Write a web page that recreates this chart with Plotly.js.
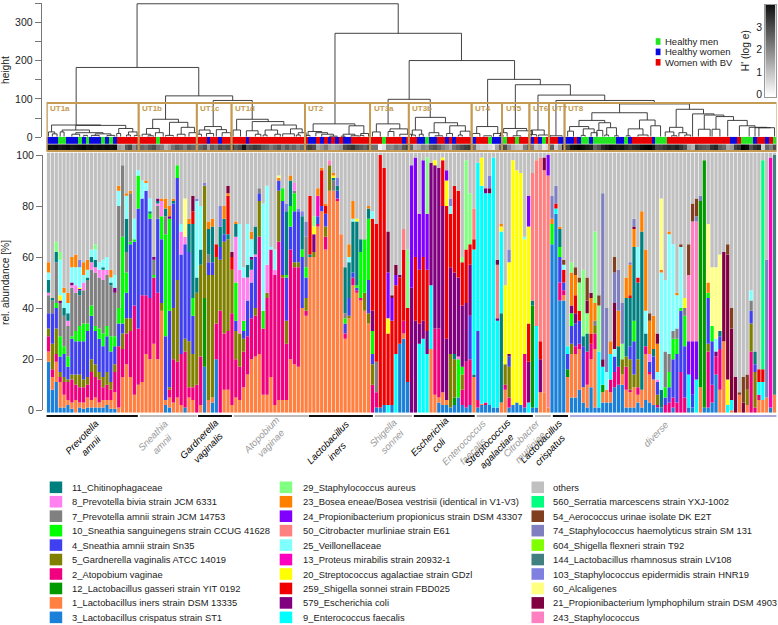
<!DOCTYPE html>
<html><head><meta charset="utf-8">
<script src="https://cdn.plot.ly/plotly-3.0.1.min.js"></script>
<style>html,body{margin:0;padding:0;background:#fff}#chart{width:778px;height:625px}</style>
</head><body><div id="chart"></div>
<script>
// stack order, bottom to top
const speciesNames = ["3_Lactobacillus crispatus strain ST1","1_Lactobacillus iners strain DSM 13335","12_Lactobacillus gasseri strain YIT 0192","2_Atopobium vaginae","5_Gardnerella vaginalis ATCC 14019","4_Sneathia amnii strain Sn35","10_Sneathia sanguinegens strain CCUG 41628","7_Prevotella amnii strain JCM 14753","8_Prevotella bivia strain JCM 6331","11_Chitinophagaceae",
"9_Enterococcus faecalis","579_Escherichia coli","259_Shigella sonnei strain FBD025","20_Streptococcus agalactiae strain GDzl","13_Proteus mirabilis strain 20932-1","25_Veillonellaceae","50_Citrobacter murliniae strain E61","24_Propionibacterium propionicus strain DSM 43307","23_Bosea eneae/Bosea vestrisii (identical in V1-V3)","29_Staphylococcus aureus",
"243_Staphylococcus","21_Propionibacterium lymphophilum strain DSM 4903","60_Alcaligenes","103_Staphylococcus epidermidis strain HNR19","144_Lactobacillus rhamnosus strain LV108","604_Shigella flexneri strain T92","74_Staphylococcus haemolyticus strain SM 131","54_Aerococcus urinae isolate DK E2T","560_Serratia marcescens strain YXJ-1002","others"];
const speciesColors = ["#1a80d8","#ff8040","#009900","#f0007f","#808000","#4040f0","#00ff00","#808080","#ff80ee","#007f7f",
"#00ffff","#800080","#f00000","#ffff00","#ff00bf","#80ffff","#ff8080","#8000ff","#ff8000","#80ff80",
"#ff80c0","#800040","#ffff80","#8080e0","#408080","#80ff00","#8080c0","#804020","#00ff80","#c0c0c0"];
const c=0,i=1,g=2,a=3,v=4,s=5,n=6,p=7,b=8,k=9,e=10,o=11,r=12,y=13,m=14,w=15,f=16,u=17,t=18,l=19,h=20,d=21,A=22,B=23,C=24,D=25,E=26,F=27,G=28;

// each sample: species, cumulative abundance [%] at that species' upper edge
const UT1a = [
[c,19,i,23,a,29,v,32,s,38,p,45,b,46,k,51,w,54,t,58],
[c,8,i,13,a,16,v,26,s,38,p,43,k,44],
[c,11,i,19,a,22,v,32,s,40,n,42,p,58,k,62,l,66],
[c,1,i,11,a,13,v,15,s,21,n,29,p,42,o,43,y,45,w,59,l,62],
[c,1,i,6,a,11,v,13,s,22,n,25,p,37,k,40,w,46,t,48],
[c,2,i,4,a,11,v,12,s,17,n,21,p,33,b,35,k,38,w,42,t,46],
[c,0.5,i,3,a,12,v,14,s,28,n,29,p,48,o,49,b,50,w,56,t,60],
[i,4,a,10,v,14,s,27,n,31,p,46,b,49,w,56,t,61],
[c,1,i,3,a,9,v,14,s,27,n,33,p,45,k,47,o,47.5,y,48,w,56,B,59],
[c,0.5,i,3,a,9,v,12,s,27,n,34,p,47,b,50,w,53,t,58],
[c,1,i,5,a,10,v,13,s,31,n,34,p,51,k,52,w,55,t,59],
[c,1,i,4,a,15,v,20,s,37,n,41,p,55,b,58,k,60,w,63],
[c,1,i,5,a,13,v,18,s,31,n,33,p,54,b,56,k,59,w,63,l,65],
[c,1,i,3,a,12,v,15,s,28,n,32,p,52,b,55,w,58],
[c,1,i,4,a,9,v,13,s,25,n,30,p,51,b,55,k,56,w,59],
[c,2,i,4,a,10,v,15,s,29,n,33,p,53,b,55,w,60],
[c,0.5,i,4,a,8,v,11,s,23,n,29,p,49,k,50,w,52,t,55],
[c,0.5,i,7,a,15,v,18,s,25,n,29,p,46,o,48,w,53],
[i,1,a,25,s,34,n,40,p,80,w,86,t,88],
[i,13,a,24,v,30,s,34,n,68,p,96],
[i,18,a,30,v,36,s,46,n,54,p,62,k,75,w,84,t,85],
[i,13,a,31,v,36,s,65,n,66,p,85,t,86],
[i,6,a,41,s,66,n,67,w,75],
[i,10,a,32,s,79,n,92,w,94]];
const UT1b = [
[i,11,a,45,s,83,w,90],
[i,22,a,45,s,86,w,89,t,90],
[i,20,a,44,s,75,n,77,w,82,k,83],
[i,26,a,52,p,58,o,59,n,60],
[i,20,a,46,p,51,o,52,s,81,b,82,k,83],
[i,39,v,42,s,67,n,76,b,82,t,83],
[c,2,i,4,s,29,n,69,p,76,t,80,k,83],
[c,1,i,5,a,8,v,9,s,39,n,75,o,76,t,80],
[i,3,a,20,v,40,s,81,k,82,t,83],
[i,5,a,19,v,51,s,91,n,96],
[i,2,a,22,s,61,b,70,w,73],
[c,1,a,23,v,28,s,65,b,68,A,83],
[i,5,a,9,v,27,s,62,k,73,t,75],
[i,4,a,9,v,22,s,37,n,44,k,73,d,79,r,84],
[a,10,v,46,k,52,w,82,B,83]];
const UT1c = [
[i,2,a,21,v,57,k,63,w,80],
[c,17,g,44,v,88,B,89],
[i,4,v,53,s,58,k,68,p,71,t,74],
[c,3,i,5,v,53,s,58,k,72,t,75],
[c,20,a,34,v,60,r,65],
[a,39,v,59,s,64,k,72,B,80],
[i,8,a,30,v,66,s,69,k,75,t,80],
[i,8,a,31,v,67,k,69,r,84,d,87,t,88],
[i,2,a,38,v,55,r,60,d,62]];
const UT1d = [
[i,5,a,20,v,31,s,35,n,50,b,68,k,73,t,74],
[i,4,a,17,v,30,b,55,w,73],
[i,9,a,23,v,28,s,31,n,35,b,52,w,56],
[i,14,a,29,s,43,k,48,b,57,w,73],
[i,20,a,36,s,50,o,51,k,55,b,60,w,67,t,70],
[i,21,a,37,v,40,s,60,k,71,b,72],
[i,22,a,68,v,82,s,85,p,87],
[i,6,a,32,n,39,w,81],
[i,6,a,44,v,46,b,57,w,88],
[i,13,a,63,w,64],
[i,2,a,53,b,55,w,63],
[i,4,a,66,v,86,s,90,A,91,t,92],
[i,4,a,52,v,53,s,82,n,87],
[i,4,a,26,v,35,s,52,n,53,k,78,B,81],
[i,20,a,63,s,72,n,80,k,90,t,92],
[i,18,a,56,v,58,s,78,n,85,b,88,p,89],
[i,17,a,56,v,58,s,78,B,79],
[i,40,s,60,n,63,k,76,B,78],
[i,37,a,39,v,44,s,52,n,56,p,68,E,74]];
const UT2 = [
[i,60,k,61,r,84],
[i,60,v,62,o,69,y,72,l,76],
[i,72,a,73,s,76,m,84,t,87],
[i,78,s,80,r,94,t,95],
[i,63,a,68,v,72,s,77,r,80,t,81],
[i,86,v,96,h,98],
[i,86,p,90,k,91,t,92,y,93],
[i,82,a,83,s,86,k,88,B,91],
[i,69],
[i,28,a,30,s,34,n,36,k,54,p,56],
[i,36,v,37,s,44,k,58,w,60,t,65],
[i,49,a,52,s,54,k,74,w,75,t,82],
[i,46,a,47,s,48,n,49,k,74,y,75],
[i,43,a,44,n,62,k,67],
[i,39,v,46,n,67],
[i,34,v,38,s,51,n,75,k,79,t,80],
[a,10,v,18,s,22,n,31,o,39,r,75,w,78]];
const UT3a = [
[c,1,a,7,r,61,p,73],
[c,1,r,100],
[c,2,r,95],
[e,2,r,30,y,36,u,54,d,70],
[c,2,r,35,u,44,d,45],
[e,22,r,49,u,53,d,57],
[c,26,r,52,d,53],
[c,28,i,30,a,35,r,63,f,71],
[c,11,r,40,l,63],
[o,48,u,96]];
const UT3b = [
[o,35,r,60,u,99],
[e,26,o,34,r,55,u,77],
[e,28,o,35,r,60,u,98],
[e,22,o,31,r,55,u,77,l,99],
[i,24,e,49,o,97],
[i,6,a,32,o,96,y,98],
[c,3,i,5,a,32,o,95],
[c,2,i,7,o,80,r,98,y,99],
[c,2,i,4,o,28,r,80,y,90,u,94],
[c,1,v,22,w,25,o,59,r,80,B,83],
[c,2,g,5,v,20,o,52,r,86,k,88],
[c,5,n,20,b,21,o,52,r,86],
[c,2,a,8,v,14,n,17,o,41,r,58,l,60],
[c,1,a,19,o,42,r,63,l,98],
[c,2,a,20,s,37,o,57,r,65,l,85],
[i,13,e,62,r,66,f,78,k,79]];
const UT4 = [
[c,1,a,4,s,31,e,97],
[c,2,i,2.5,e,88,y,99],
[c,2,a,3,e,85,o,87],
[c,2,e,85,d,87,B,92],
[c,1,e,99],
[c,1,e,35,o,36,f,57,d,59],
[i,3,k,38,e,70,y,72,t,73],
[i,8,a,10,v,18,y,49]];
const UT5 = [
[c,1,a,5,s,9,v,21,y,57,o,58,B,63],
[c,2,y,98],
[c,3,y,94],
[c,2,y,93],
[c,1,a,22,y,67,w,68],
[e,3,o,19,r,34,y,72,u,84],
[c,1,g,41,k,43,f,93]];
const UT6 = [
[c,1,e,33,f,98],
[i,7,o,20,r,27,f,99],
[i,7,d,12,f,99],
[i,1,f,92,u,100],
[c,65,n,73,t,75,E,84]];
const UT7 = [
[c,77,e,79,r,81,E,88],
[c,43,a,50,s,60,n,64,k,71,t,72],
[c,43,i,45,a,47,s,50,r,55,w,57,F,59],
[i,13,g,16,s,22,e,25]];
const UT8 = [
[c,5,i,22,v,26,s,33,n,38,o,41,t,54,l,58],
[c,5,i,22,a,25,s,34,o,38,r,45,t,53,F,56],
[c,8,i,24,a,26,s,35,r,39,l,50,F,52],
[c,3,i,9,s,25,k,29,l,55],
[c,1,i,10,a,23,k,30,l,38,d,43,F,52],
[c,9,i,20,a,26,r,30,t,44,d,46],
[c,1,i,24,a,30,v,33,p,35,t,42,l,70],
[c,1,e,23,l,41,F,45],
[c,3,i,7,g,10,e,17,d,20,E,85],
[c,3,i,8,w,15,E,40],
[c,3,i,7,a,12,e,22,t,27],
[c,9,a,15,s,21,w,24,d,42,E,54,F,60],
[c,10,a,17,k,25,t,39,E,55],
[c,10,i,14,v,20,l,26,E,42],
[c,1,i,8,a,17,v,21,k,44,t,52],
[c,1,i,7,a,8,v,20,s,25,k,44,r,45,t,57,E,58],
[c,1,i,9,v,14,s,27,n,35,k,64,d,65,t,72,E,75],
[c,3,i,6,a,9,v,20,k,50,r,52,w,64],
[c,1,i,8,k,70,t,78],
[c,4,i,22,a,25,k,30,w,39,t,63],
[c,3,i,14,a,15,s,19,b,22,t,35,F,38],
[c,2,i,12,s,21,k,24,t,37],
[c,1,a,2,v,6,s,11,w,14,b,15,t,26,d,30],
[c,1,k,8,w,54,t,55,A,83],
[a,2,n,6,s,9,p,23,w,51],
[a,3,n,9,s,15,p,22,w,69,t,70],
[c,1,a,5,s,20,n,28,p,31,w,65],
[a,3,s,22,n,28,p,32,w,45,t,46],
[a,15,s,39,n,40,w,64,F,65],
[a,5,s,25,n,37,p,40,y,44],
[c,1,e,14,u,27,h,53,F,65],
[c,1,s,6,u,27,h,74,F,81],
[e,12,u,27,h,74,F,81,E,83],
[i,9,g,82,E,84],
[c,1,g,98],
[c,1,a,23,v,26,s,44,n,46,t,50,A,73],
[c,3,a,10,s,27,n,33,A,56],
[c,14,a,21,w,26,o,28,A,56],
[i,8,a,24,s,29,k,31,A,61],
[i,27,d,62],
[e,2,y,12,d,61,F,65],
[e,3,i,4,d,32,F,40],
[d,13],
[i,6,F,7],
[d,3,F,13],
[i,2,v,8,F,14],
[a,23,v,34,s,39,p,43,w,47],
[a,1,v,15,s,18,k,23],
[i,4,a,6,e,11,r,16],
[i,4,e,11,r,16,G,98],
[i,5,E,59],
[c,1,m,99],
[i,6,C,100]];

// sample group strip as [group, run length]: 0 healthy men, 1 healthy women, 2 women with BV
const groupRuns = [[1,3],[0,2],[1,3],[0,1],[1,1],[0,1],[1,3],[0,1],[1,1],[0,1],[1,1],[2,10],[0,1],[2,12],[1,1],[2,2],[1,1],[2,6],[1,1],[2,15],[1,2],[2,1],[1,1],[2,1],[1,1],[2,1],[1,1],[2,1],[1,2],[2,7],[2,1],[0,1],[2,4],[1,1],[2,3],[1,2],[0,1],[1,2],[2,2],[1,1],[2,1],[1,1],[2,4],[1,1],[2,3],[0,1],[1,3],[0,1],[2,2],[0,1],[2,3],[1,1],[2,1],[1,1],[0,1],[2,3],[1,4],[2,1],[1,1],[0,2],[1,1],[0,6],[1,2],[0,1],[1,1],[2,5],[1,1],[0,3],[2,16],[1,2],[2,1],[0,3],[1,1],[2,2],[1,1],[2,1],[0,1],[2,2]];
// H' diversity per sample
const diversityH = [3.8,3.7,3.8,3.6,3.7,3.8,3.6,3.7,3.8,3.9,3.7,3.8,3.7,3.8,3.7,3.8,3.7,3.8,
1.6,1.4,2.6,2.9,1.8,2.5,
2.4,2.2,2.6,2.8,2.2,2.0,1.2,1.6,2.2,2.6,2.4,2.0,2.6,2.4,2.3,
2.4,2.7,1.6,2.5,2.2,2.8,2.6,2.8,3.2,
2.6,2.9,3.7,2.7,2.9,3.1,3.0,2.6,2.5,2.1,2.4,2.7,2.1,2.6,2.2,2.4,2.0,2.3,2.7,
3.0,2.8,1.4,1.7,2.1,1.5,1.3,1.5,1.7,2.8,3.0,3.2,2.8,2.6,2.4,2.8,2.2,
2.2,0.2,0.5,1.9,1.8,2.2,2.0,2.6,2.9,2.4,
1.2,1.4,1.9,1.7,2.5,2.7,2.4,2.0,1.7,1.3,2.2,2.5,2.8,3.0,3.1,2.2,
1.0,0.8,0.9,0.6,0.4,1.4,2.4,2.8,
1.8,1.2,1.0,0.9,2.0,2.4,2.0,
0.9,1.2,0.4,0.6,2.5,
0.8,1.6,3.4,3.0,
3.7,3.8,3.9,3.8,3.6,3.5,2.5,2.8,3.4,3.6,3.8,3.7,3.6,3.7,3.4,3.2,3.4,3.5,3.8,3.9,4.0,3.7,2.9,3.0,3.2,3.4,3.3,3.5,3.2,2.8,1.5,1.2,3.0,2.7,2.6,2.5,3.2,3.4,2.6,2.4,1.4,1.6,3.0,3.2,4.0,3.8,2.7,3.2,3.4,0.8,2.4,2.0,2.8];

// dendrogram merges: left x, right x, merge height, left child height, right child height (x in sample positions)
const mergesUpper = [
[22.7,89.6,348,182,271],[7.1,38.5,182,32,108],[30,47.2,108,47,96],[42.2,52.2,96,28,47],
[73.4,105.8,271,35,200],[92.4,119.4,200,99,151],[87,97.8,99,35,52],[112.5,126,151,28,137],
[119.6,133.7,137,23,110],[125.4,142.5,110,19,96],[130,155.2,96,4,87],[146.3,164.2,87,64,73],
[139.2,153.4,64,44,45],[160.8,167.8,73,26,61]];
const mergesClusters = [
[0.8,13.4,32,14,31],[7,19.8,31,19,23],[0,1.6,14,2,9],[1,2.2,9,2,2],[3.5,10.5,19,14,12],[3,4,14,2,2],[7,14,12,8,9],[6,8,8,2,2],[12,16,9,5,5],[11,13,5,2,2],[15,17,5,2,2],[9,10,5,2,2],[18,21.6,23,10,14],[17.5,18.5,10,2,2],[20.5,22.7,14,6,5],[20,21,6,2,2],[22,23.4,5,2,2],
[26.7,33.3,47,23,39],[25.1,28.4,23,8,12],[24,26.2,8,2,4],[25.5,26.9,4,2,2],[27.4,29.4,12,2,2],[31,35.7,39,5,26],[30,32,5,2,2],[34,37.4,26,8,12],[33,35,8,2,2],[36,38,12,2,5],
[40,44.3,28,19,20],[38.6,41.4,19,8,10],[38,39.2,8,2,2],[40.5,42.3,10,2,2],[43,45.6,20,2,12],[44.5,46.7,12,2,2],
[48.2,56.3,47,19,41],[47.3,49.2,19,2,2],[52.2,60.3,41,17,32],[50.7,53.7,17,2,8],[53,54.4,8,2,2],[57.1,63.5,32,19,22],[55.5,58.7,19,6,8],[55,56,6,2,2],[58,59.4,8,2,2],[62,65,22,9,12],[60,63,9,2,2],[64,66,12,6,2],[63.5,64.5,6,2,2],
[67.8,78.5,35,15,30],[66.5,70,15,5,12],[66,67,5,2,2],[68.5,71.5,12,3,8],[70,73,8,2,3],[72,74,3,2,2],[77,80.8,30,8,10],[75.5,78.5,8,2,4],[77.5,79.5,4,2,2],[80,82,10,5,2],[79.8,80.8,5,2,2],[75,76,3,2,2],
[84,90,35,14,22],[83,85,14,2,2],[87.5,92,22,15,8],[87,88.5,15,2,2],[90,93,8,2,2],
[94,101.7,52,19,38],[93.2,95.6,19,6,8],[93,94,6,2,2],[95,96,8,2,2],[98.8,104.8,38,12,30],[97.5,100,12,2,4],[99,101,4,2,2],[102.8,106.8,30,10,16],[102,103.5,10,2,2],[105.5,108,16,6,2],[105,106,6,2,2],
[109.7,115.1,28,10,10],[108.6,110.5,10,2,2],[114,116,10,2,5],[115.5,116.5,5,2,2],[111.5,113.5,4,2,2],
[116.6,122.5,23,12,17],[115.8,117.5,12,2,2],[120,124,17,4,7],[119,121,4,2,2],[123,125,7,2,2],
[123.7,127,19,2,6],[125.5,128.5,6,2,2],
[128.5,131.6,4,2,2],
[135.9,142.5,44,28,38],[133.5,138.4,28,16,22],[133,134.5,16,2,2],[137,139.8,22,5,12],[136.5,137.5,5,2,2],[139,140.5,12,2,2],[141,144,38,18,25],[140.5,142,18,2,2],[143,145.5,25,6,4],[142.5,143.5,6,2,2],[145,146,4,2,2],
[151.4,155.4,45,22,30],[148.5,152.3,22,4,6],[148,149,4,2,2],[151,153.6,6,2,2],[154.3,156.8,30,2,2],
[159.1,162.5,26,14,12],[158,160.2,14,2,4],[159.6,161,4,2,2],[161.5,163.5,12,2,6],[163,164.5,6,2,2],
[165,170.5,61,2,58],[168,173,58,21,54],[166.5,169.5,21,2,2],[171,175.5,54,21,44],[170,172,21,2,2],[174,179,44,2,30],[177,181,30,2,26],[179.5,184,26,2,25],[181,185,25,2,25],[182,186,25,2,2]];

const clusterNames = ["UT1a","UT1b","UT1c","UT1d","UT2","UT3a","UT3b","UT4","UT5","UT6","UT7","UT8"];
const clusterEdges = [-0.4,23.1,38,46.9,65.7,82.4,92.3,108.4,116.2,123.2,128.2,132.2,186.6];
const taxonLabels = ["Prevotella<br>amnii","Sneathia<br>amnii","Gardnerella<br>vaginalis","Atopobium<br>vaginae","Lactobacillus<br>iners","Shigella<br>sonnei","Escherichia<br>coli","Enterococcus<br>faecalis","Streptococcus<br>agalactiae","Citrobacter<br>murliniae","Lactobacillus<br>crispatus","diverse"];
const taxonLineStart = [-0.8,23.4,38.3,47.5,66.7,83.6,93.6,109.7,117.4,124.6,129.2,133.6];
const taxonLineEnd = [22.9,38,47,66.5,83.1,93.1,109.2,117.2,124.1,128.7,133.1,186.6];
const taxonLineColors = ["#111","#bbb","#111","#bbb","#111","#bbb","#111","#aaa","#111","#bbb","#111","#a8a8dc"];
const taxonTextColors = ["#000","#999","#000","#999","#000","#999","#000","#999","#000","#999","#000","#999"];
const taxonPxX = [86,157.3,202.7,265,332,386.7,434,468.3,491.7,525.7,545,655];
const taxonPxY = [441.7,439.3,443,439,446,437,440.7,446.7,446,442.7,445,434];
const groupNames = ["Healthy men","Healthy women","Women with BV"];
const groupColors = ["#22e622","#0a0ae0","#e80000"];
const legendCol1 = [9,8,7,6,5,4,3,2,1,0];
const legendCol2 = [19,18,17,16,15,14,13,12,11,10];
const legendCol3 = [29,28,27,26,25,24,23,22,21,20];
const hRamp = [0,0.5,1,1.5,2,2.5,3,3.5,4];

const W=778,H=625;
const px=x=>x/W, py=y=>1-y/H;
const FONT='"Liberation Sans", Arial, sans-serif';
const samples=[...UT1a,...UT1b,...UT1c,...UT1d,...UT2,...UT3a,...UT3b,...UT4,...UT5,...UT6,...UT7,...UT8];
const xs=samples.map((_,j)=>j);
const heights=speciesNames.map(()=>xs.map(()=>0));
const OFFSET=1; // bars run one unit beyond the 0 and 100 ticks
samples.forEach((row,j)=>{
  let prev=0;
  for(let q=0;q<row.length;q+=2){
    const top=row[q+1];
    heights[row[q]][j]=Math.max(0,top-prev)+(q===0?OFFSET:0);
    prev=Math.max(prev,top);
  }
  heights[29][j]=100-prev+OFFSET;
});
const traces=speciesNames.map((nm,q)=>({type:'bar',x:xs,y:heights[q],name:nm,marker:{color:speciesColors[q],line:{width:0}},hoverinfo:'name+y',xaxis:'x',yaxis:'y'}));

// transparent carrier of the percent axis
traces.push({type:'scatter',mode:'lines',x:[0,186],y:[0,100],line:{width:0,color:'rgba(0,0,0,0)'},hoverinfo:'skip',xaxis:'x',yaxis:'y5'});

// dendrogram
const dx=[],dy=[];
[...mergesUpper,...mergesClusters].forEach(L=>{dx.push(L[0],L[0],L[1],L[1],null);dy.push(L[3],L[2],L[2],L[4],null);});
traces.push({type:'scatter',mode:'lines',x:dx,y:dy,line:{color:'#2e2e2e',width:0.9},hoverinfo:'skip',xaxis:'x',yaxis:'y2',cliponaxis:false});

// strips
const groupZ=[];groupRuns.forEach(R=>{for(let q=0;q<R[1];q++)groupZ.push(R[0]);});
traces.push({type:'heatmap',x:xs,y:[0],z:[groupZ.slice(0,187)],zmin:0,zmax:2,colorscale:[[0,groupColors[0]],[0.5,groupColors[1]],[1,groupColors[2]]],showscale:false,hoverinfo:'skip',xaxis:'x',yaxis:'y3'});
traces.push({type:'heatmap',x:xs,y:[0],z:[diversityH],zmin:0,zmax:4,colorscale:[[0,'#ffffff'],[1,'#000000']],showscale:false,hoverinfo:'skip',xaxis:'x',yaxis:'y4'});
// H' scale
traces.push({type:'heatmap',x:[0],y:hRamp,z:hRamp.map(q=>[q]),zmin:0,zmax:4,zsmooth:'best',colorscale:[[0,'#ffffff'],[1,'#111111']],showscale:false,hoverinfo:'skip',xaxis:'x2',yaxis:'y6'});

const shapes=[],ann=[];
clusterNames.forEach((nm,q)=>{
  shapes.push({type:'rect',xref:'x',yref:'paper',x0:clusterEdges[q],x1:clusterEdges[q+1],y0:py(151),y1:py(103),line:{color:'#c49a54',width:1.8}});
  ann.push({xref:'x',yref:'paper',x:clusterEdges[q]+0.4,y:py(108.5),text:nm,showarrow:false,xanchor:'left',yanchor:'middle',font:{family:FONT,size:8,color:'#c49a50',weight:'bold'}});
});
taxonLabels.forEach((tx,q)=>{
  shapes.push({type:'line',xref:'x',yref:'paper',x0:taxonLineStart[q],x1:taxonLineEnd[q],y0:py(416),y1:py(416),line:{color:taxonLineColors[q],width:2}});
  ann.push({xref:'paper',yref:'paper',x:px(taxonPxX[q]),y:py(taxonPxY[q]),text:'<i>'+tx+'</i>',showarrow:false,textangle:-46,xanchor:'center',yanchor:'middle',font:{family:FONT,size:9.6,color:taxonTextColors[q]}});
});
groupNames.forEach((nm,q)=>{
  const yc=41.5+q*10.4;
  shapes.push({type:'rect',xref:'paper',yref:'paper',x0:px(655.7),x1:px(660.5),y0:py(yc+3.3),y1:py(yc-3.3),fillcolor:groupColors[q],line:{width:0}});
  ann.push({xref:'paper',yref:'paper',x:px(663),y:py(yc),text:nm,showarrow:false,xanchor:'left',yanchor:'middle',font:{family:FONT,size:9.5,color:'#222'}});
});
[[legendCol1,49.7,70],[legendCol2,279.7,300.5],[legendCol3,531.5,551.4]].forEach(col=>{
  col[0].forEach((sp,q)=>{
    const yc=487.3+q*14.45;
    shapes.push({type:'rect',xref:'paper',yref:'paper',x0:px(col[1]),x1:px(col[1]+12.5),y0:py(yc+5.8),y1:py(yc-5.8),fillcolor:speciesColors[sp],line:{width:0}});
    ann.push({xref:'paper',yref:'paper',x:px(col[2]),y:py(yc),text:speciesNames[sp],showarrow:false,xanchor:'left',yanchor:'middle',font:{family:FONT,size:9.4,color:'#222'}});
  });
});

const tickFont={family:FONT,size:10.5,color:'#222'};
const layout={
  width:W,height:H,margin:{l:0,r:0,t:0,b:0},paper_bgcolor:'#fff',plot_bgcolor:'rgba(0,0,0,0)',
  barmode:'stack',bargap:0.16,showlegend:false,font:{family:FONT},
  xaxis:{domain:[px(46.5),px(776.5)],range:[-0.5,186.5],visible:false,anchor:'y'},
  yaxis:{domain:[py(412.7),py(152.5)],range:[0,102],visible:false,anchor:'x'},
  yaxis2:{domain:[py(137.3),py(3)],range:[0,350],anchor:'free',position:px(40.7),showline:true,linecolor:'#777',linewidth:1,ticks:'outside',ticklen:6,tickcolor:'#777',tickvals:[0,50,100,150,200,250,300,350],ticktext:['0','','100','','200','','300',''],tickfont:tickFont,showgrid:false,zeroline:false,title:{text:'height',font:{family:FONT,size:10.2,color:'#222'},standoff:7}},
  yaxis3:{domain:[py(144),py(136.8)],range:[-0.5,0.5],visible:false,anchor:'x'},
  yaxis4:{domain:[py(151),py(144.3)],range:[-0.5,0.5],visible:false,anchor:'x'},
  yaxis5:{domain:[py(410),py(155)],range:[0,100],anchor:'free',position:px(42),showline:true,linecolor:'#777',linewidth:1,ticks:'outside',ticklen:6,tickcolor:'#777',tickvals:[0,20,40,60,80,100],tickfont:tickFont,showgrid:false,zeroline:false,title:{text:'rel. abundance [%]',font:{family:FONT,size:10.2,color:'#222'},standoff:7}},
  xaxis2:{domain:[px(765.3),px(775.7)],anchor:'y6',visible:true,showticklabels:false,ticks:'',showline:true,mirror:true,linecolor:'#999',showgrid:false,zeroline:false,range:[-0.5,0.5]},
  yaxis6:{domain:[py(96.7),py(4.7)],anchor:'x2',range:[-0.1,4],tickvals:[0,1,2,3,4],ticks:'',showline:true,mirror:true,linecolor:'#999',showgrid:false,zeroline:false,tickfont:tickFont,title:{text:"H' (log e)",font:{family:FONT,size:10.2,color:'#222'},standoff:4}},
  shapes:shapes,annotations:ann
};
Plotly.newPlot('chart',traces,layout,{staticPlot:true,displayModeBar:false}).then(gd=>{
  // stacked bars are pixel-snapped by default, which makes the 3.9 px columns uneven
  gd.querySelectorAll('.barlayer .trace').forEach(el=>el.setAttribute('shape-rendering','geometricPrecision'));
});
</script></body></html>
